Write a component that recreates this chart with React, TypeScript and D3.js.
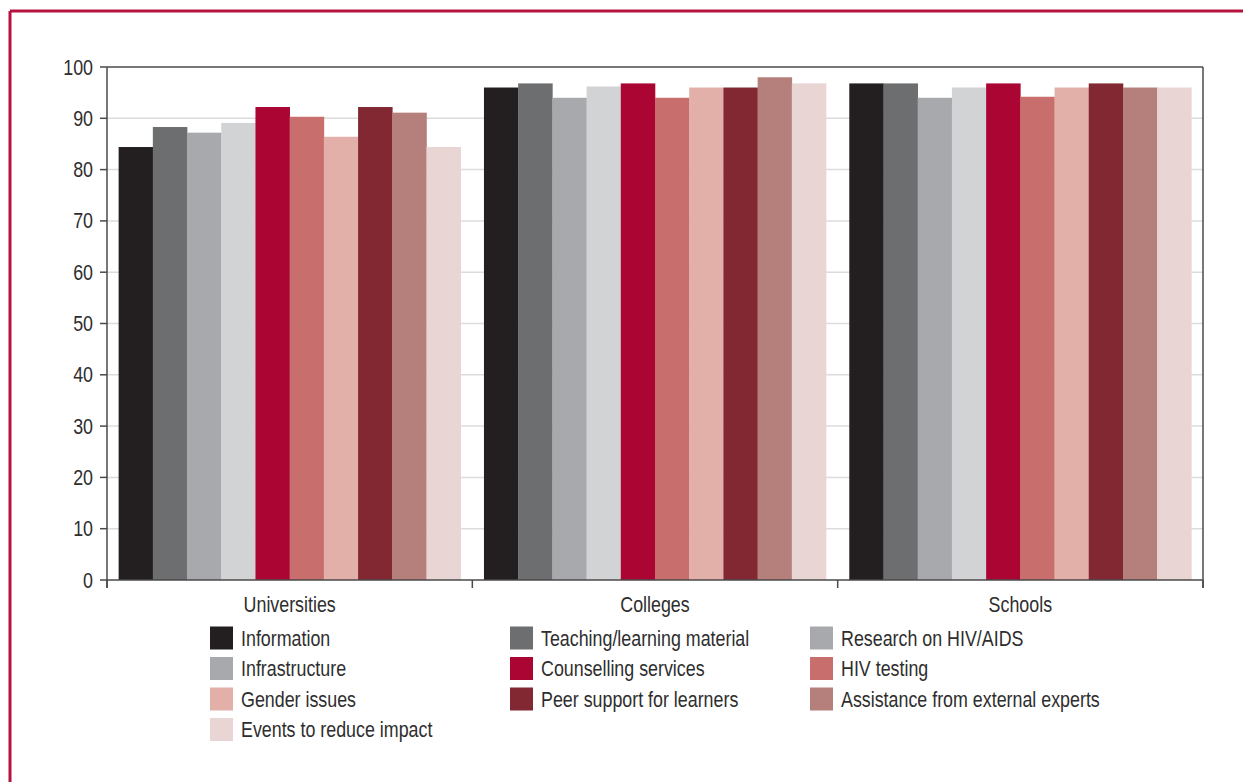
import React from "react";
import * as d3 from "d3";

const categories = ["Universities", "Colleges", "Schools"];

const seriesNames = [
  "Information",
  "Teaching/learning material",
  "Research on HIV/AIDS",
  "Infrastructure",
  "Counselling services",
  "HIV testing",
  "Gender issues",
  "Peer support for learners",
  "Assistance from external experts",
  "Events to reduce impact",
];

const seriesColors = [
  "#231f20",
  "#6d6e70",
  "#a7a9ac",
  "#d1d3d4",
  "#ab0534",
  "#c86e6c",
  "#e2b0a8",
  "#812833",
  "#b5807b",
  "#e9d5d3",
];

// Legend swatches (the Infrastructure key is printed in the mid grey)
const legendColors = [
  "#231f20",
  "#6d6e70",
  "#a7a9ac",
  "#a7a9ac",
  "#ab0534",
  "#c86e6c",
  "#e2b0a8",
  "#812833",
  "#b5807b",
  "#e9d5d3",
];

// values per category, in series order
const universities = [84.4, 88.3, 87.2, 89.1, 92.2, 90.3, 86.4, 92.2, 91.1, 84.4];
const colleges = [96.0, 96.8, 94.0, 96.2, 96.8, 94.0, 96.0, 96.0, 98.0, 96.8];
const schools = [96.8, 96.8, 94.0, 96.0, 96.8, 94.2, 96.0, 96.8, 96.0, 96.0];

const values = [universities, colleges, schools];

const yTicks = [0, 10, 20, 30, 40, 50, 60, 70, 80, 90, 100];

const W = 1243;
const H = 782;
const plot = { left: 107, right: 1203, top: 67, bottom: 580 };
const FONT = "'Liberation Sans', Arial, sans-serif";
const NARROW = 0.83; // horizontal squeeze for a condensed face
const FS = 21.5;
const FRAME = "#b5123e";
const AXIS = "#4a4a4a";
const TEXT = "#2e2e2e";

function NText({
  x,
  y,
  anchor = "start",
  children,
}: {
  x: number;
  y: number;
  anchor?: "start" | "middle" | "end";
  children: React.ReactNode;
}) {
  return (
    <text
      transform={`translate(${x},${y}) scale(${NARROW},1)`}
      dy="0.35em"
      textAnchor={anchor}
      fontSize={FS}
      fill={TEXT}
    >
      {children}
    </text>
  );
}

export default function App() {
  const x0 = d3
    .scaleBand<string>()
    .domain(categories)
    .range([plot.left, plot.right])
    .paddingInner(0)
    .paddingOuter(0);

  const x1 = d3
    .scaleBand<string>()
    .domain(seriesNames)
    .range([0, x0.bandwidth()])
    .paddingInner(0)
    .paddingOuter(0.34);

  const y = d3.scaleLinear().domain([0, 100]).range([plot.bottom, plot.top]);

  const legendCols = [210, 510, 810];
  const legendRow0 = 638;
  const legendRowStep = 30.5;
  const sw = 23;

  const boundaries = [...categories.map((c) => x0(c) as number), plot.right];

  return (
    <svg
      width={W}
      height={H}
      style={{ position: "absolute", left: 0, top: 0, background: "#fff" }}
      fontFamily={FONT}
    >
      {/* outer frame */}
      <line x1={10} y1={11} x2={W} y2={11} stroke={FRAME} strokeWidth={3} />
      <line x1={10} y1={11} x2={10} y2={H} stroke={FRAME} strokeWidth={3} />

      {/* gridlines */}
      {yTicks
        .filter((t) => t > 0 && t < 100)
        .map((t) => (
          <line
            key={"g" + t}
            x1={plot.left}
            x2={plot.right}
            y1={y(t)}
            y2={y(t)}
            stroke="#dcdcdc"
            strokeWidth={1.5}
          />
        ))}

      {/* bars */}
      {categories.map((c, ci) => (
        <g key={c} transform={`translate(${x0(c)},0)`}>
          {seriesNames.map((s, si) => (
            <rect
              key={s}
              x={x1(s)}
              y={y(values[ci][si])}
              width={x1.bandwidth() + 0.3}
              height={y(0) - y(values[ci][si])}
              fill={seriesColors[si]}
            />
          ))}
        </g>
      ))}

      {/* plot box */}
      <line x1={plot.left} x2={plot.right} y1={plot.top} y2={plot.top} stroke={AXIS} strokeWidth={1.5} />
      <line x1={plot.right} x2={plot.right} y1={plot.top} y2={plot.bottom + 8} stroke={AXIS} strokeWidth={1.5} />
      <line x1={plot.left} x2={plot.right} y1={plot.bottom} y2={plot.bottom} stroke={AXIS} strokeWidth={1.5} />
      <line x1={plot.left} x2={plot.left} y1={plot.top} y2={plot.bottom + 8} stroke={AXIS} strokeWidth={1.5} />

      {/* y ticks and labels */}
      {yTicks.map((t) => (
        <g key={"t" + t}>
          <line x1={plot.left - 7} x2={plot.left} y1={y(t)} y2={y(t)} stroke={AXIS} strokeWidth={1.5} />
          <NText x={plot.left - 14} y={y(t)} anchor="end">
            {t}
          </NText>
        </g>
      ))}

      {/* category boundary ticks */}
      {boundaries.map((bx, i) => (
        <line key={"b" + i} x1={bx} x2={bx} y1={plot.bottom} y2={plot.bottom + 8} stroke={AXIS} strokeWidth={1.5} />
      ))}

      {/* category labels */}
      {categories.map((c) => (
        <NText key={"l" + c} x={(x0(c) as number) + x0.bandwidth() / 2} y={604} anchor="middle">
          {c}
        </NText>
      ))}

      {/* legend */}
      {seriesNames.map((s, i) => {
        const col = i % 3;
        const row = Math.floor(i / 3);
        const lx = legendCols[col];
        const ly = legendRow0 + row * legendRowStep;
        return (
          <g key={"leg" + s}>
            <rect x={lx} y={ly - sw / 2} width={sw} height={sw} fill={legendColors[i]} />
            <NText x={lx + 31} y={ly}>
              {s}
            </NText>
          </g>
        );
      })}
    </svg>
  );
}
